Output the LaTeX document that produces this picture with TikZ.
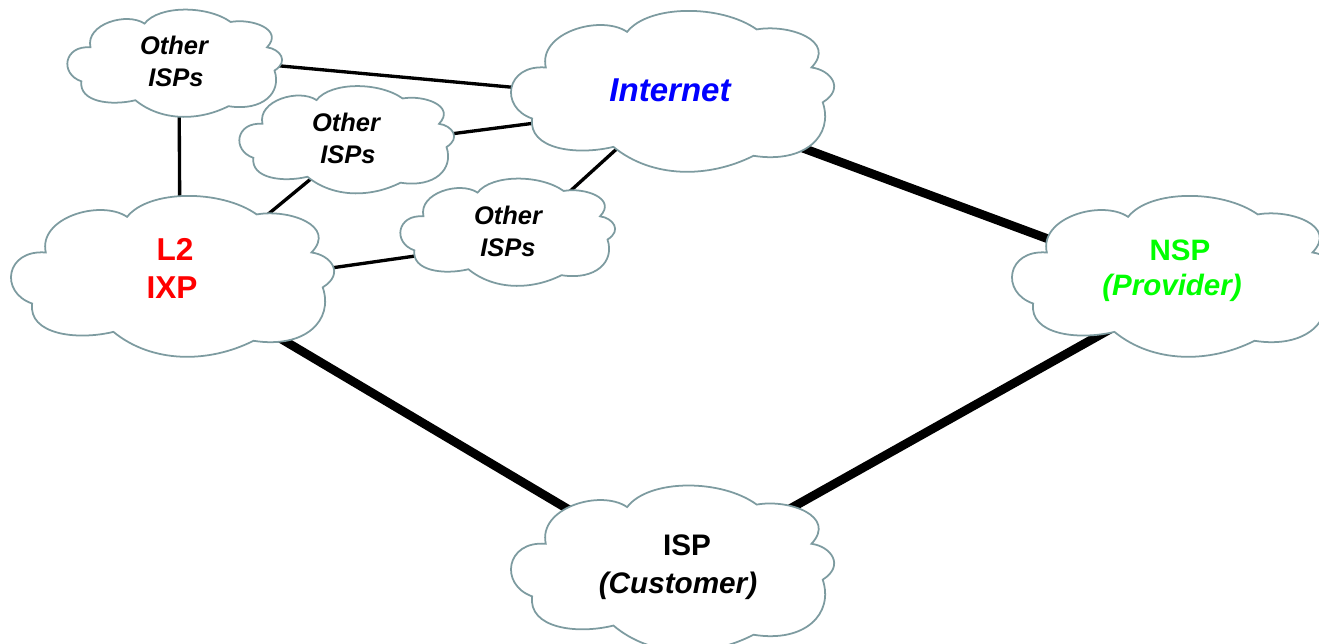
\documentclass[tikz,border=0pt]{standalone}
\usepackage{fontspec}
\setmainfont{Liberation Sans}
\usetikzlibrary{shapes.geometric,backgrounds}
\definecolor{cloudedge}{RGB}{125,155,160}
\newcommand{\cloudpath}{(-.79,.29) .. controls (-.84,.72) and (-.45,.95) .. (-.285,.73)
  .. controls (-.15,1.07) and (.30,1.07) .. (.52,.76)
  .. controls (.72,.83) and (1.02,.62) .. (.86,.29)
  .. controls (.98,.26) and (1.07,.03) .. (.93,-.14)
  .. controls (1.0,-.55) and (.82,-.90) .. (.50,-.80)
  .. controls (.22,-1.08) and (-.13,-1.08) .. (-.37,-.69)
  .. controls (-.60,-.80) and (-.90,-.72) .. (-.875,-.34)
  .. controls (-1.08,-.20) and (-1.04,.33) .. (-.79,.29) -- cycle}
\tikzset{
  cloudline/.style={draw=cloudedge,fill=white,line width=0.5pt},
  smallcloud/.style={cloudline,xscale=1.07,yscale=0.54},
  bigcloud/.style={cloudline,xscale=1.61,yscale=0.81},
  isptext/.style={ellipse,inner sep=0pt,outer sep=0pt,align=center},
  smalltext/.style={isptext,minimum width=1.7cm,minimum height=0.84cm,
    font=\fontsize{7.25}{9.1}\selectfont\bfseries\itshape},
  bigtext/.style={isptext,minimum width=2.56cm,minimum height=1.26cm},
  thinlink/.style={black,line width=0.95pt},
  fatlink/.style={black,line width=2.5pt}
}
\begin{document}
\begin{tikzpicture}
\useasboundingbox (0,0) rectangle (13.19,6.44);

\draw[shift={(1.75,5.81)},smallcloud] \cloudpath;
\node[smalltext] (otherA) at (1.74,5.83) {Other\\\hspace*{.04cm}ISPs};
\draw[shift={(3.47,5.045)},smallcloud] \cloudpath;
\node[smalltext] (otherB) at (3.46,5.06) {Other\\\hspace*{.04cm}ISPs};
\draw[shift={(5.08,4.12)},smallcloud] \cloudpath;
\node[smalltext] (otherC) at (5.08,4.13) {Other\\ISPs};

\draw[shift={(6.73,5.53)},bigcloud] \cloudpath;
\node[bigtext,text=blue,font=\fontsize{9.4}{11}\selectfont\bfseries\itshape] (inet) at (6.70,5.54) {Internet};
\draw[shift={(1.73,3.68)},bigcloud] \cloudpath;
\node[bigtext,text=red,font=\fontsize{9}{10.8}\selectfont\bfseries] (ixp) at (1.72,3.76) {\hspace*{.06cm}L2\\IXP};
\draw[shift={(11.74,3.68)},bigcloud] \cloudpath;
\node[bigtext,text=green,font=\fontsize{8.4}{10}\selectfont\bfseries] (nsp) at (11.72,3.73) {\hspace*{.16cm}NSP\\\textit{(Provider)}};
\draw[shift={(6.73,0.76)},bigcloud,yscale=1.03] \cloudpath;
\node[bigtext,font=\fontsize{8.45}{10.8}\selectfont\bfseries] (isp) at (6.78,0.77) {\hspace*{.18cm}ISP\\\textit{(Customer)}};

\begin{scope}[on background layer]
\draw[thinlink] (otherA.358) -- (inet.180);
\draw[thinlink] (otherA.277) -- (ixp.83);
\draw[thinlink] (otherB.1) -- (inet.195);
\draw[thinlink] (otherB.230) -- (ixp.28.5);
\draw[thinlink] (otherC.31) -- (inet.228);
\draw[thinlink] (otherC.197) -- (ixp.358);
\draw[fatlink] (inet.335) -- (nsp.166);
\draw[fatlink] (ixp.326) -- (isp.153);
\draw[fatlink] (isp.27) -- (nsp.224);
\end{scope}
\end{tikzpicture}
\end{document}
